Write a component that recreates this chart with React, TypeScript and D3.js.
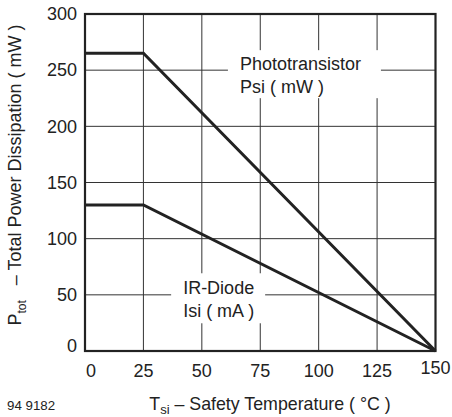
import { useEffect, useRef } from 'react';
import * as d3 from 'd3';

// derating curves (Tsi in degC)
const temps = [0, 25, 150];
const phototransistor = [265, 265, 0]; // Psi (mW)
const irDiode = [130, 130, 0]; // Isi (mA)

const xTicks = [0, 25, 50, 75, 100, 125, 150];
const yTicks = [0, 50, 100, 150, 200, 250, 300];

const curveLabels = [
  { lines: ['Phototransistor', 'Psi ( mW )'], x: 66.3, y: 250, box: [-12, -20, 153, 48] },
  { lines: ['IR-Diode', 'Isi ( mA )'], x: 42, y: 50.5, box: [-12, -21, 94, 50] },
];

const W = 452;
const H = 417;
const ink = '#222';
const font = 'Liberation Sans, Arial, Helvetica, sans-serif';

export default function App() {
  const ref = useRef<SVGSVGElement>(null);

  useEffect(() => {
    document.body.style.margin = '0';
    if (!ref.current) return;
    const svg = d3.select(ref.current);
    svg.selectAll('*').remove();

    const x = d3.scaleLinear().domain([0, 150]).range([85, 435.5]);
    const y = d3.scaleLinear().domain([0, 300]).range([351, 14]);

    // grid
    const grid = svg.append('g').attr('stroke', '#333').attr('stroke-width', 1);
    grid.selectAll('line.v')
      .data(xTicks.slice(1, -1))
      .join('line')
      .attr('class', 'v')
      .attr('x1', d => x(d)).attr('x2', d => x(d))
      .attr('y1', y(0)).attr('y2', y(300));
    grid.selectAll('line.h')
      .data(yTicks.slice(1, -1))
      .join('line')
      .attr('class', 'h')
      .attr('y1', d => y(d)).attr('y2', d => y(d))
      .attr('x1', x(0)).attr('x2', x(150));

    // label backgrounds
    curveLabels.forEach(l => {
      svg.append('rect')
        .attr('x', x(l.x) + l.box[0])
        .attr('y', y(l.y) + l.box[1])
        .attr('width', l.box[2])
        .attr('height', l.box[3])
        .attr('fill', '#fff');
    });

    // frame
    svg.append('rect')
      .attr('x', x(0)).attr('y', y(300))
      .attr('width', x(150) - x(0)).attr('height', y(0) - y(300))
      .attr('fill', 'none').attr('stroke', ink).attr('stroke-width', 2.2);

    const line = d3.line<number>().x((_, i) => x(temps[i])).y(d => y(d));
    [phototransistor, irDiode].forEach(s => {
      svg.append('path')
        .attr('d', line(s))
        .attr('fill', 'none')
        .attr('stroke', ink)
        .attr('stroke-width', 3)
        .attr('stroke-linejoin', 'miter');
    });

    // curve labels
    curveLabels.forEach(l => {
      l.lines.forEach((t, i) => {
        svg.append('text')
          .attr('x', x(l.x))
          .attr('y', y(l.y) + i * 23)
          .attr('font-size', 18)
          .attr('font-family', font)
          .attr('fill', ink)
          .text(t);
      });
    });

    // tick labels
    svg.append('g').selectAll('text')
      .data(xTicks)
      .join('text')
      .attr('x', d => x(d) + (d === 0 ? 6 : 0))
      .attr('y', d => (d === 150 ? 374 : 377))
      .attr('text-anchor', 'middle')
      .attr('font-size', 18)
      .attr('font-family', font)
      .attr('fill', ink)
      .text(d => d);

    svg.append('g').selectAll('text')
      .data(yTicks)
      .join('text')
      .attr('x', 77)
      .attr('y', d => y(d) + (d === 0 ? -5 : 0))
      .attr('dy', '0.35em')
      .attr('text-anchor', 'end')
      .attr('font-size', 18)
      .attr('font-family', font)
      .attr('fill', ink)
      .text(d => d);

    // x title
    const xt = svg.append('text')
      .attr('x', 270).attr('y', 410)
      .attr('text-anchor', 'middle')
      .attr('font-size', 17.8)
      .attr('font-family', font)
      .attr('fill', ink);
    xt.append('tspan').text('T');
    xt.append('tspan').attr('font-size', 13).attr('dy', 4).text('si');
    xt.append('tspan').attr('dy', -4).text(' – Safety Temperature ( °C )');

    // y title
    const yt = svg.append('text')
      .attr('transform', 'translate(21,175) rotate(-90)')
      .attr('text-anchor', 'middle')
      .attr('font-size', 18)
      .attr('font-family', font)
      .attr('fill', ink)
      .attr('xml:space', 'preserve');
    yt.append('tspan').text('P');
    yt.append('tspan').attr('font-size', 12).attr('dy', 5).text('tot');
    yt.append('tspan').attr('dy', -5).text('   – Total Power Dissipation ( mW )');

    svg.append('text')
      .attr('x', 7).attr('y', 410)
      .attr('font-size', 13.3)
      .attr('font-family', font)
      .attr('fill', ink)
      .text('94 9182');
  }, []);

  return <svg ref={ref} width={W} height={H} style={{ display: 'block', background: '#fff' }} />;
}
